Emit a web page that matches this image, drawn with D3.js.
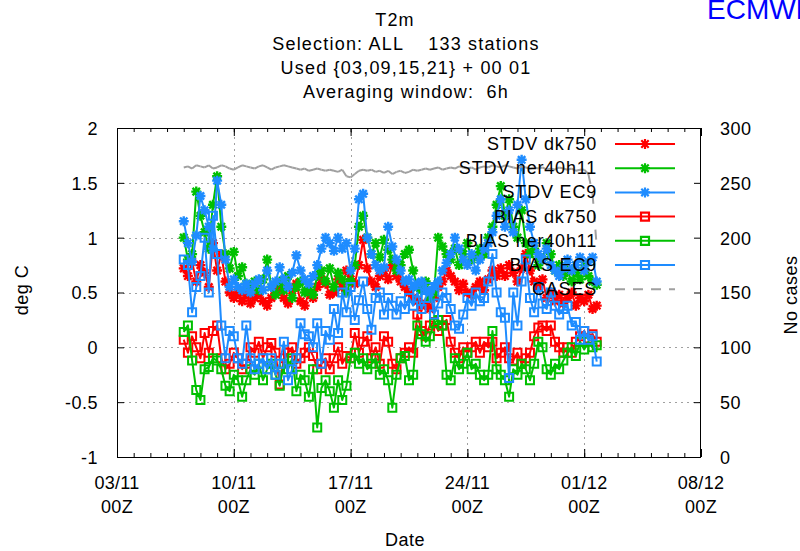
<!DOCTYPE html>
<html><head><meta charset="utf-8">
<script src="https://cdn.jsdelivr.net/npm/d3@7"></script>
<style>
body{margin:0;background:#fff}
svg text{font-family:"Liberation Sans",Arial,sans-serif;fill:#000}
</style>
</head><body>
<svg id="chart" width="800" height="551"></svg>
<script>
// ---- data: 6-hourly verification scores, 07/11 00Z .. 01/12 18Z ----
const startTime = Date.UTC(2009, 10, 7, 0);
const stepHours = 6;

const stdvDk750 = [0.72,0.65,0.78,0.60, 0.75,0.68,0.55,0.95, 0.70,0.85,0.60,0.50, 0.45,0.50,0.42,0.48, 0.40,0.45,0.50,0.42, 0.38,0.45,0.50,0.55, 0.45,0.40,0.52,0.58, 0.42,0.38,0.50,0.45, 0.55,0.62,0.58,0.48, 0.50,0.62,0.55,0.70, 0.62,0.58,0.75,0.98, 0.72,0.60,0.55,0.65, 0.70,0.62,0.75,0.65, 0.60,0.55,0.50,0.45, 0.42,0.38,0.40,0.35, 0.45,0.55,0.60,0.70, 0.65,0.60,0.52,0.58, 0.50,0.48,0.55,0.60, 0.52,0.62,0.70,0.65, 0.72,0.65,0.75,0.68, 0.60,0.72,0.85,0.70, 0.60,0.55,0.62,0.45, 0.50,0.42,0.48,0.40, 0.45,0.50,0.38,0.45, 0.42,0.48,0.35,0.38];
const stdvNer40h11 = [1.00,0.80,0.85,1.42, 1.20,1.05,0.90,1.30, 1.56,1.10,0.85,0.72, 0.87,0.65,0.73,0.58, 0.55,0.60,0.52,0.62, 0.80,0.55,0.48,0.60, 0.52,0.65,0.45,0.55, 0.60,0.50,0.55,0.48, 0.65,0.70,0.60,0.72, 0.55,0.68,0.62,0.50, 0.60,0.75,1.10,1.20, 1.00,0.85,0.95,0.82, 0.98,0.89,0.80,0.70, 0.75,0.85,0.89,0.70, 0.55,0.52,0.60,0.45, 0.50,1.00,0.92,0.85, 0.80,0.90,0.75,0.85, 0.95,0.80,0.83,0.90, 0.85,1.00,1.10,1.30, 1.47,1.20,1.35,1.10, 1.00,1.25,0.95,0.85, 0.90,0.75,0.80,0.95, 0.85,0.70,0.75,0.65, 0.70,0.60,0.68,0.62, 0.75,0.65,0.60,0.57];
const stdvEC9 = [1.15,0.95,0.78,1.02, 1.38,1.25,1.10,0.90, 1.52,1.30,0.80,0.55, 0.62,0.55,0.52,0.58, 0.50,0.58,0.62,0.52, 0.70,0.55,0.60,0.73, 0.62,0.55,0.68,0.84, 0.70,0.62,0.58,0.65, 0.75,0.90,1.00,0.95, 0.88,1.00,0.90,0.95, 0.70,0.90,1.35,1.40, 1.00,0.85,0.75,0.70, 0.73,1.10,0.92,0.80, 0.70,0.60,0.62,0.55, 0.58,0.60,0.52,0.50, 0.55,0.60,0.70,0.77, 0.85,1.00,0.90,0.80, 0.75,0.85,0.70,0.80, 0.90,0.95,1.05,1.20, 1.35,1.10,1.25,1.05, 1.30,1.71,1.35,1.10, 0.95,0.85,0.80,0.90, 0.75,0.70,0.65,0.72, 0.80,0.70,0.75,0.82, 0.70,0.78,0.82,0.60];
const biasDk750 = [0.07,-0.05,0.10,0.00, -0.10,0.13,-0.05,0.15, 0.20,-0.10,-0.20,-0.15, -0.05,-0.10,-0.20,-0.15, 0.00,-0.05,0.05,-0.10, 0.00,0.04,-0.05,-0.34, -0.10,-0.05,0.00,-0.15, -0.10,-0.05,0.00,-0.08, -0.20,-0.15,-0.10,-0.20, -0.10,0.00,-0.15,-0.08, -0.10,0.13,-0.05,0.05, 0.10,-0.10,0.00,-0.15, 0.10,0.05,-0.15,-0.20, -0.10,-0.05,0.00,-0.05, 0.30,0.15,0.10,0.20, 0.23,0.15,0.20,0.25, 0.05,-0.05,-0.10,0.00, -0.05,0.00,0.05,-0.05, 0.05,0.00,0.05,-0.10, -0.05,0.00,-0.10,-0.12, -0.05,-0.15,-0.10,-0.05, 0.10,0.18,0.20,0.15, 0.20,0.05,0.00,-0.05, 0.00,-0.05,0.05,0.10, 0.15,0.08,0.12,0.05];
const biasNer40h11 = [0.14,0.20,-0.12,-0.39, -0.48,-0.20,-0.18,-0.10, -0.12,-0.20,-0.35,-0.40, -0.25,-0.30,-0.45,-0.30, -0.20,-0.25,-0.15,-0.30, -0.20,-0.15,-0.25,-0.35, -0.15,-0.20,-0.10,-0.40, -0.25,-0.30,-0.45,-0.20, -0.73,-0.37,-0.30,-0.40, -0.55,-0.30,-0.48,-0.35, -0.10,-0.05,-0.15,-0.10, -0.20,-0.15,-0.10,-0.25, -0.20,-0.30,-0.55,-0.25, -0.10,-0.08,-0.30,-0.25, 0.20,0.12,0.05,0.10, 0.22,0.25,0.20,-0.25, -0.30,-0.10,-0.20,-0.15, -0.05,-0.20,-0.15,-0.25, -0.30,-0.25,0.15,-0.20, -0.25,-0.30,-0.45,-0.20, -0.25,-0.15,-0.20,-0.30, -0.15,0.05,0.00,-0.20, -0.25,-0.15,-0.20,-0.12, -0.05,0.00,-0.08,0.05, -0.02,0.05,0.00,0.02];
const biasEC9 = [0.80,0.75,0.32,0.55, 0.65,1.00,0.50,1.20, 0.85,0.20,-0.10,0.15, 0.10,-0.10,-0.15,0.20, -0.10,-0.20,-0.15,-0.10, -0.20,-0.10,-0.25,-0.15, 0.05,-0.30,-0.20,-0.10, 0.22,0.12,0.10,0.00, 0.22,-0.15,0.15,0.07, 0.35,0.13,0.50,0.32, 0.55,0.25,0.43,0.60, 0.35,0.16,0.45,0.50, 0.30,0.45,0.38,0.30, 0.42,0.35,0.45,0.38, 0.50,0.35,0.45,0.55, 0.30,0.40,0.50,0.45, 0.35,0.20,0.17,0.30, 0.45,0.38,0.50,0.42, 0.45,0.60,0.85,0.50, 0.32,0.27,-0.28,0.50, 0.20,0.60,0.80,0.45, 0.32,0.55,0.40,0.35, 0.50,0.38,0.30,0.35, 0.38,0.20,0.23,0.07, 0.15,0.07,0.10,-0.13];
const cases = [264,265,263,266, 265,264,266,263, 264,266,265,263, 262,264,266,265, 264,263,265,266, 264,262,264,265, 266,265,264,263, 262,263,261,262, 263,262,261,262, 261,260,262,256, 255,258,261,262, 261,262,260,261, 259,261,258,260, 261,259,260,262, 261,262,263,262, 263,264,262,263, 264,263,265,264, 263,264,262,264, 265,264,266,265, 264,266,265,264, 263,265,264,263, 264,263,264,262, 263,262,264,263, 262,263,261,262, 262,258,240,192];

const seriesNames = ["STDV dk750","STDV ner40h11","STDV EC9","BIAS dk750","BIAS ner40h11","BIAS EC9"];
const seriesColors = ["#ff0000","#00c000","#1e8cff","#ff0000","#00c000","#1e8cff"];
const seriesMarkers = ["star","star","star","square","square","square"];
const seriesValues = [stdvDk750, stdvNer40h11, stdvEC9, biasDk750, biasNer40h11, biasEC9];

const yTicks = [-1,-0.5,0,0.5,1,1.5,2];
const y2Ticks = [0,50,100,150,200,250,300];
const xTickDates = [[2009,10,3],[2009,10,10],[2009,10,17],[2009,10,24],[2009,11,1],[2009,11,8]];
const titleLines = ["T2m","Selection: ALL    133 stations","Used {03,09,15,21} + 00 01","Averaging window:  6h"];

(function draw() {
  const svg = d3.select("#chart");
  const pL = 117, pR = 701, pT = 128, pB = 457;
  const xDomain = [Date.UTC(2009,10,3), Date.UTC(2009,11,8)];
  const x = d3.scaleUtc().domain(xDomain).range([pL, pR]);
  const y = d3.scaleLinear().domain([-1, 2]).range([pB, pT]);
  const y2 = d3.scaleLinear().domain([0, 300]).range([pB, pT]);
  const times = cases.map((_, i) => new Date(startTime + i * stepHours * 3600e3));
  const majorDates = xTickDates.map(d => new Date(Date.UTC(d[0], d[1], d[2])));
  const dayTicks = d3.utcDay.range(new Date(xDomain[0]), new Date(xDomain[1] + 1));

  // key area, kept free of grid lines
  const keyBox = {x0: 435, x1: pR, y0: pT, y1: 300};

  // ---- grid ----
  const grid = svg.append("g").attr("stroke", "#a0a0a0").attr("stroke-width", 1).attr("stroke-dasharray", "2,4");
  yTicks.filter(v => v > -1 && v < 2).forEach(v => {
    const yy = Math.round(y(v)) + 0.5;
    const inKey = yy >= keyBox.y0 && yy <= keyBox.y1;
    grid.append("line").attr("x1", pL).attr("x2", inKey ? keyBox.x0 : pR).attr("y1", yy).attr("y2", yy);
  });
  majorDates.slice(1, -1).forEach(d => {
    const xx = Math.round(x(d)) + 0.5;
    const inKey = xx >= keyBox.x0;
    grid.append("line").attr("x1", xx).attr("x2", xx).attr("y1", pB).attr("y2", inKey ? keyBox.y1 : pT);
  });

  // ---- axes ----
  const fmt = d => String(d);
  const axL = svg.append("g").attr("transform", `translate(${pL},0)`)
    .call(d3.axisLeft(y).tickValues(yTicks).tickFormat(fmt).tickSize(-7).tickPadding(19));
  const axR = svg.append("g").attr("transform", `translate(${pR},0)`)
    .call(d3.axisRight(y2).tickValues(y2Ticks).tickFormat(fmt).tickSize(-7).tickPadding(19));
  const axB = svg.append("g").attr("transform", `translate(0,${pB})`)
    .call(d3.axisBottom(x).tickValues(majorDates).tickFormat("").tickSize(-8));
  const axBm = svg.append("g").attr("transform", `translate(0,${pB})`)
    .call(d3.axisBottom(x).tickValues(dayTicks).tickFormat("").tickSize(-4));
  const axT = svg.append("g").attr("transform", `translate(0,${pT})`)
    .call(d3.axisTop(x).tickValues(majorDates).tickFormat("").tickSize(-8));
  const axTm = svg.append("g").attr("transform", `translate(0,${pT})`)
    .call(d3.axisTop(x).tickValues(dayTicks).tickFormat("").tickSize(-4));
  [axL, axR, axB, axBm, axT, axTm].forEach(g => {
    g.select(".domain").remove();
    g.selectAll(".tick line").attr("stroke", "#000").attr("stroke-width", 1);
    g.selectAll("text").attr("font-size", 18).attr("font-family", "Liberation Sans, Arial, sans-serif").attr("letter-spacing", 0.5).attr("fill", "#000");
  });
  axL.selectAll(".tick text").attr("dy", "0.36em");
  axR.selectAll(".tick text").attr("dy", "0.36em");

  // date labels in two lines
  const fmtDay = d3.utcFormat("%d/%m");
  const fmtHour = d3.utcFormat("%HZ");
  svg.append("g").selectAll("text").data(majorDates).join("text")
    .attr("x", d => x(d)).attr("y", 489).attr("text-anchor", "middle")
    .attr("font-size", 18).attr("letter-spacing", 0.3)
    .call(t => {
      t.append("tspan").attr("x", d => x(d)).text(d => fmtDay(d));
      t.append("tspan").attr("x", d => x(d)).attr("dy", 24).text(d => fmtHour(d));
    });

  // frame
  svg.append("rect").attr("x", pL + 0.5).attr("y", pT + 0.5)
    .attr("width", pR - pL - 1).attr("height", pB - pT)
    .attr("fill", "none").attr("stroke", "#000").attr("stroke-width", 1);

  // ---- marker shapes ----
  function markerPath(kind) {
    if (kind === "star") {
      const s = 5, d = 3.7;
      return `M${-s},0L${s},0M0,${-s}L0,${s}M${-d},${-d}L${d},${d}M${-d},${d}L${d},${-d}`;
    }
    const h = 4;
    return `M${-h},${-h}H${h}V${h}H${-h}Z`;
  }

  // ---- series ----
  const line = d3.line().x((d, i) => x(times[i])).y(d => y(d));
  const plot = svg.append("g");
  seriesValues.forEach((vals, k) => {
    const g = plot.append("g");
    g.append("path").attr("d", line(vals)).attr("fill", "none")
      .attr("stroke", seriesColors[k]).attr("stroke-width", 2).attr("stroke-linejoin", "round");
    g.selectAll("path.m").data(vals).join("path").attr("class", "m")
      .attr("transform", (d, i) => `translate(${x(times[i])},${y(d)})`)
      .attr("d", markerPath(seriesMarkers[k]))
      .attr("fill", "none").attr("stroke", seriesColors[k])
      .attr("stroke-width", seriesMarkers[k] === "star" ? 2.4 : 2);
  });

  // number of cases on the right-hand axis, one segment per interval
  const casesG = svg.append("g").attr("stroke", "#a0a0a0").attr("stroke-width", 2).attr("stroke-dasharray", "10,8");
  d3.pairs(cases.map((c, i) => [x(times[i]), y2(c)])).forEach(([a, b]) => {
    casesG.append("line").attr("x1", a[0]).attr("y1", a[1]).attr("x2", b[0]).attr("y2", b[1]);
  });

  // ---- key ----
  const keyRows = seriesNames.map((n, k) => ({name: n, color: seriesColors[k], marker: seriesMarkers[k]}))
    .concat([{name: "CASES", color: "#a0a0a0", marker: null}]);
  const key = svg.append("g").selectAll("g").data(keyRows).join("g")
    .attr("transform", (d, i) => `translate(0,${144 + i * 24.2})`);
  key.append("text").attr("x", 597).attr("y", 6).attr("text-anchor", "end")
    .attr("font-size", 18).attr("letter-spacing", 0.8).text(d => d.name);
  key.append("line").attr("x1", 615).attr("x2", 675).attr("y1", 0).attr("y2", 0)
    .attr("stroke", d => d.color).attr("stroke-width", 2)
    .attr("stroke-dasharray", d => d.marker ? null : "10,8");
  key.filter(d => d.marker).append("path").attr("transform", "translate(645,0)")
    .attr("d", d => markerPath(d.marker)).attr("fill", "none")
    .attr("stroke", d => d.color).attr("stroke-width", 2.2);

  // ---- titles ----
  svg.append("g").selectAll("text").data(titleLines).join("text")
    .attr("x", (d, i) => i === 0 ? 395 : 406).attr("y", (d, i) => 26 + i * 24)
    .attr("text-anchor", "middle").attr("font-size", 18).attr("letter-spacing", 1.2)
    .style("white-space", "pre").text(d => d);
  svg.append("text").attr("x", 707).attr("y", 19).attr("font-size", 28)
    .style("fill", "#0000ff").text("ECMWF");
  svg.append("text").attr("transform", "translate(28,290) rotate(-90)")
    .attr("text-anchor", "middle").attr("font-size", 18).attr("letter-spacing", 0.5).text("deg C");
  svg.append("text").attr("transform", "translate(797,295) rotate(-90)")
    .attr("text-anchor", "middle").attr("font-size", 18).attr("letter-spacing", 0.5).text("No cases");
  svg.append("text").attr("x", 405).attr("y", 546).attr("text-anchor", "middle")
    .attr("font-size", 18).attr("letter-spacing", 0.5).text("Date");
})();
</script>
</body></html>
